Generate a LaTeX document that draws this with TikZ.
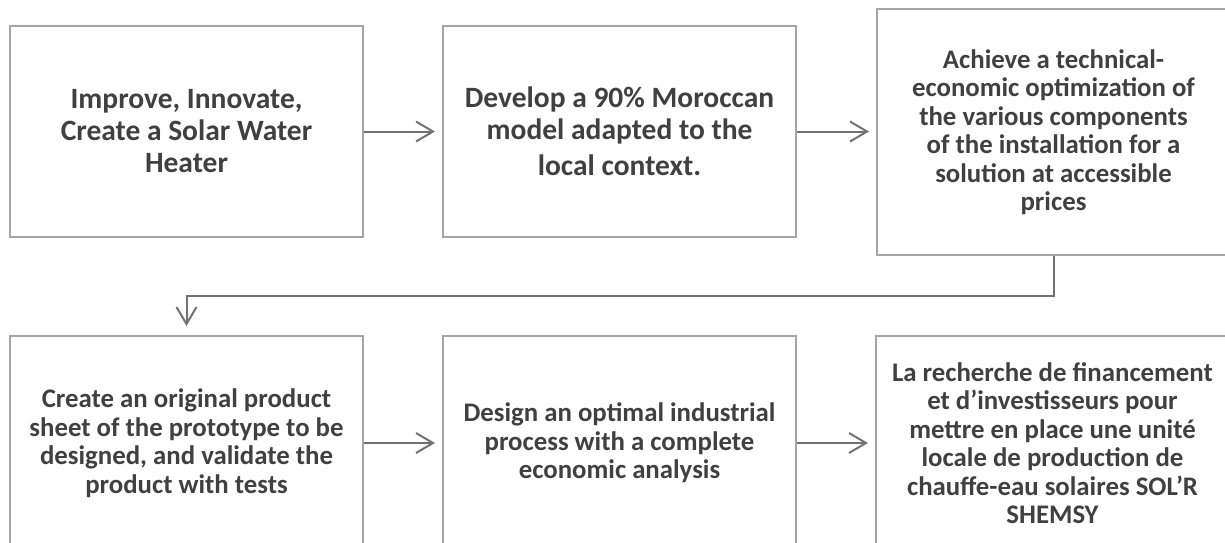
\documentclass[tikz,border=0pt]{standalone}
\usepackage{fontspec}
\setmainfont{Carlito}
\usetikzlibrary{arrows.meta}
\definecolor{boxgray}{HTML}{A5A5A5}
\definecolor{linegray}{HTML}{767171}
\definecolor{txtgray}{HTML}{404040}
\begin{document}
\begin{tikzpicture}[x=1pt,y=-1pt,
	block/.style={rectangle, draw=boxgray, line width=2pt, inner sep=0pt, minimum width=353pt, minimum height=211pt, align=center, text=txtgray, font=\fontsize{26.8}{28.5}\selectfont\bfseries},
	wide/.style={font=\fontsize{29.5}{32}\selectfont\bfseries},
	link/.style={draw=linegray, line width=2pt, -{Straight Barb[length=17pt,width=20pt]}, shorten >=7pt}]
	\useasboundingbox (0,0) rectangle (1225,542);
	\clip (0,0) rectangle (1225,542);
	\node[block,wide] (n1) at (186.5,131.5) {Improve, Innovate,\\Create a Solar Water\\Heater};
	\node[block,wide] (n2) at (619.5,131.5) {Develop a 90\% Moroccan\\model adapted to the\\[4pt]local context.};
	\node[block,minimum height=246pt] (n3) at (1053.5,132) {Achieve a technical-\\economic optimization of\\the various components\\of the installation for a\\solution at accessible\\prices};
	\node[block,minimum height=214pt] (n4) at (186.5,443) {Create an original product\\sheet of the prototype to be\\designed, and validate the\\product with tests};
	\node[block,minimum height=214pt] (n5) at (619.5,443) {Design an optimal industrial\\process with a complete\\economic analysis};
	\node[block,minimum height=214pt] (n6) at (1052.5,443) {La recherche de financement\\et d’investisseurs pour\\mettre en place une unité\\locale de production de\\chauffe-eau solaires SOL’R\\SHEMSY};
	\draw[link] (n1) -- (n2);
	\draw[link] (n2.east) -- (n3.west |- n2.east);
	\draw[link,shorten >=9pt] (n3.south) -- ++(0,40) -| (n4.north);
	\draw[link] (n4) -- (n5);
	\draw[link] (n5) -- (n6);
\end{tikzpicture}
\end{document}
